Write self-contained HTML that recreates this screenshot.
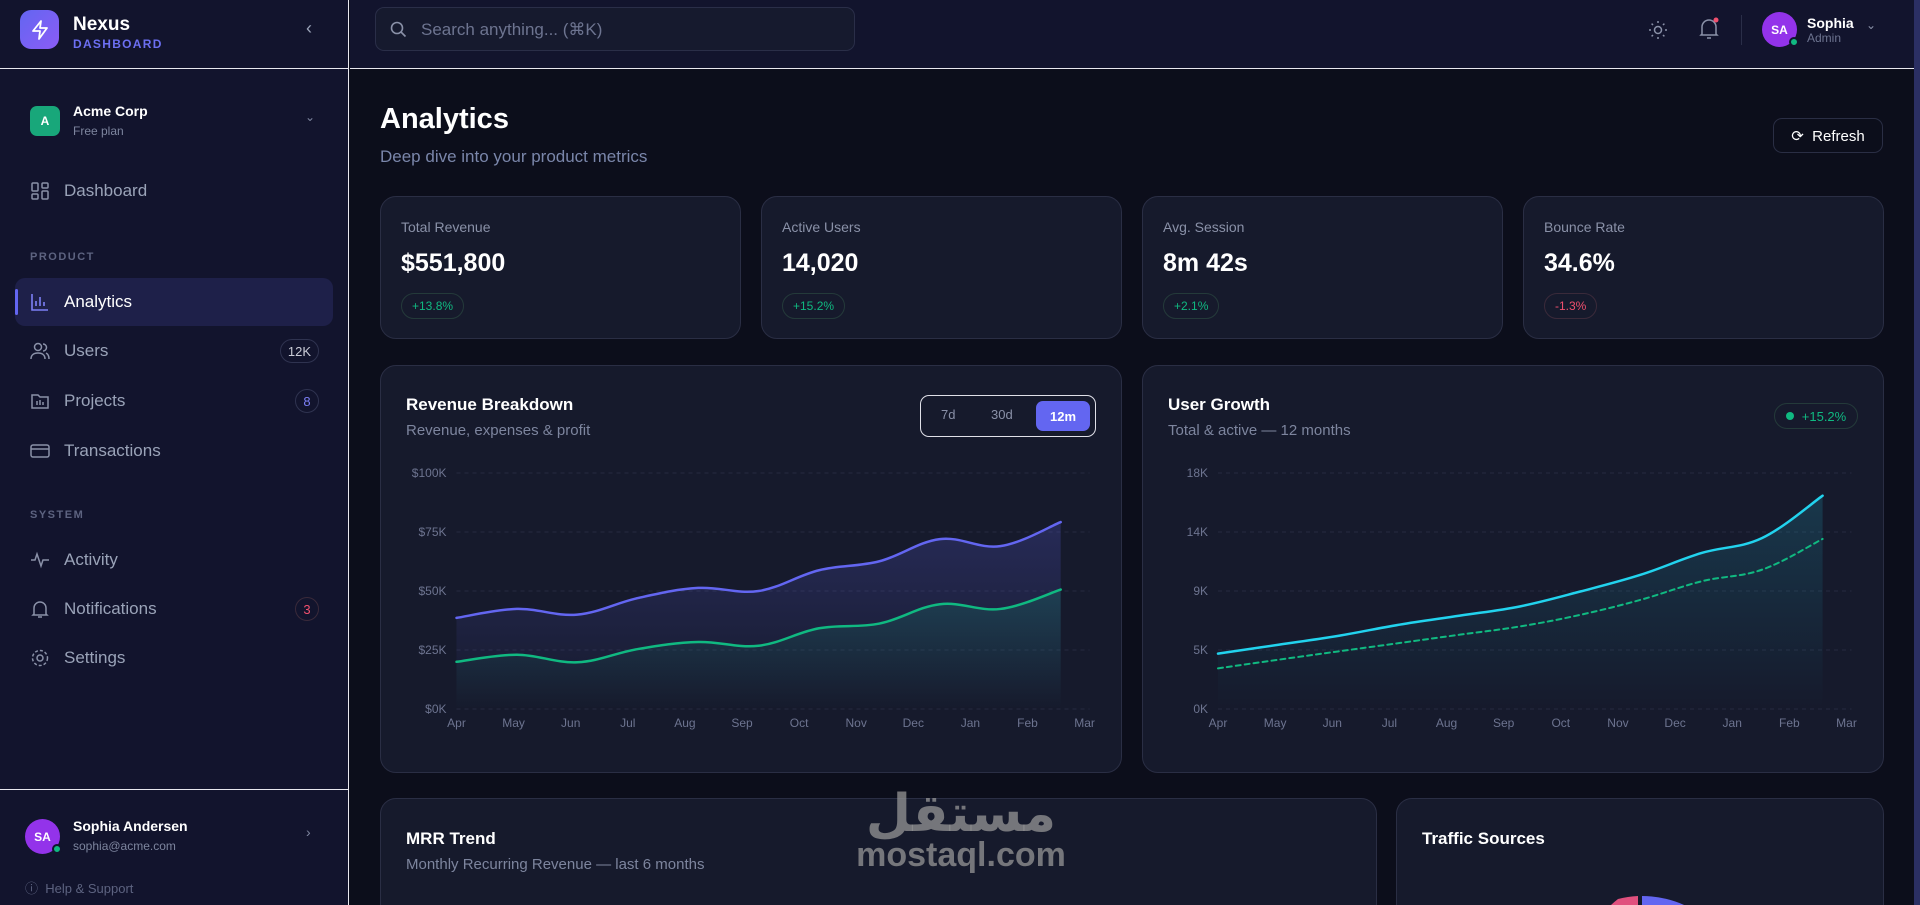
<!DOCTYPE html>
<html><head><meta charset="utf-8">
<style>
*{box-sizing:border-box;margin:0;padding:0}
html,body{width:1920px;height:905px;overflow:hidden}
body{background:#0c0e1b;font-family:"Liberation Sans",sans-serif;color:#e5e7eb;position:relative}
#root{position:absolute;left:0;top:0;width:1920px;height:905px;overflow:hidden}
.abs{position:absolute}
#sidebar{left:0;top:0;width:349px;height:905px;background:#12142d;border-right:1px solid #e8e8ee}
.nav{position:absolute;left:15px;width:318px;height:46px;display:flex;align-items:center;font-size:17px;color:#9aa3b8}
.nav svg{position:absolute;left:15px}
.nav span.t{position:absolute;left:49px}
.badge{position:absolute;right:14px;height:24px;min-width:24px;padding:0 7px;border:1px solid #2f3350;border-radius:12px;font-size:13px;display:flex;align-items:center;justify-content:center;color:#c9cbd6}
.sec{position:absolute;left:30px;font-size:11px;letter-spacing:1.5px;font-weight:bold;color:#5d6380}
.card{position:absolute;background:#161a2c;border:1px solid #2a2e44;border-radius:16px}
.kl{position:absolute;left:20px;top:22px;font-size:14px;color:#8a91a8}
.kv{position:absolute;left:20px;top:52px;font-size:25px;font-weight:bold;color:#fff}
.pill{position:absolute;left:20px;top:96px;height:26px;padding:0 10px;border:1px solid #243a3a;border-radius:13px;font-size:12px;display:flex;align-items:center}
.ct{position:absolute;font-size:17px;font-weight:bold;color:#fff}
.cs{position:absolute;font-size:15px;color:#7d859e}
</style></head><body>
<div id="root">
<div id="sidebar" class="abs">
  <div class="abs" style="left:20px;top:10px;width:39px;height:39px;border-radius:11px;background:linear-gradient(135deg,#6366f1,#8b5cf6);display:flex;align-items:center;justify-content:center">
    <svg width="18" height="20" viewBox="0 0 18 20"><path d="M10 1 L2 11 H9 L8 19 L16 8 H9 Z" fill="none" stroke="#fff" stroke-width="1.8" stroke-linejoin="round"/></svg></div>
  <div class="abs" style="left:73px;top:14px;font-size:19px;font-weight:bold;color:#fff">Nexus</div>
  <div class="abs" style="left:73px;top:37px;font-size:12px;font-weight:bold;letter-spacing:1.3px;color:#6c6ff2">DASHBOARD</div>
  <div class="abs" style="left:306px;top:18px;font-size:18px;color:#9aa3b8">‹</div>
  <div class="abs" style="left:0;top:68px;width:349px;height:1px;background:#e8e8ee"></div>
  <div class="abs" style="left:30px;top:106px;width:30px;height:30px;border-radius:7px;background:#18a77a;color:#fff;font-size:12px;font-weight:bold;display:flex;align-items:center;justify-content:center">A</div>
  <div class="abs" style="left:73px;top:103px;font-size:14px;font-weight:bold;color:#fff">Acme Corp</div>
  <div class="abs" style="left:73px;top:124px;font-size:12px;color:#7d859e">Free plan</div>
  <div class="abs" style="left:305px;top:110px;font-size:12px;color:#7d859e">⌄</div>
  <div class="nav" style="top:168px"><svg width="20" height="20" viewBox="0 0 20 20" fill="none" stroke="#8a91a8" stroke-width="1.5"><rect x="2" y="2" width="6" height="8" rx="1"/><rect x="12" y="2" width="6" height="5" rx="1"/><rect x="2" y="13" width="6" height="5" rx="1"/><rect x="12" y="10" width="6" height="8" rx="1"/></svg><span class="t">Dashboard</span></div>
  <div class="sec" style="top:251px">PRODUCT</div>
  <div class="nav" style="top:278px;height:48px;background:#1e2049;border-radius:10px;color:#fff"><div class="abs" style="left:0;top:11px;width:3px;height:26px;background:#6366f1;border-radius:2px"></div><svg width="20" height="20" viewBox="0 0 20 20" fill="none" stroke="#7c7ff5" stroke-width="1.6"><path d="M2 2V18H18M6 14V9M10 14V5M14 14V10"/></svg><span class="t">Analytics</span></div>
  <div class="nav" style="top:328px"><svg width="20" height="20" viewBox="0 0 20 20" fill="none" stroke="#8a91a8" stroke-width="1.5"><circle cx="8" cy="6" r="3.5"/><path d="M1 18c0-4 3-6 7-6s7 2 7 6M13 3a3.5 3.5 0 010 7M16 12c2 1 3 3 3 6"/></svg><span class="t">Users</span><span class="badge">12K</span></div>
  <div class="nav" style="top:378px"><svg width="20" height="20" viewBox="0 0 20 20" fill="none" stroke="#8a91a8" stroke-width="1.5"><path d="M2 4h6l2 2h8v11H2z M7 10v4M10 9v5M13 11v3"/></svg><span class="t">Projects</span><span class="badge" style="color:#7c7ff5">8</span></div>
  <div class="nav" style="top:428px"><svg width="20" height="20" viewBox="0 0 20 20" fill="none" stroke="#8a91a8" stroke-width="1.5"><rect x="1" y="4" width="18" height="12" rx="2"/><path d="M1 8H19"/></svg><span class="t">Transactions</span></div>
  <div class="sec" style="top:509px">SYSTEM</div>
  <div class="nav" style="top:537px"><svg width="20" height="20" viewBox="0 0 20 20" fill="none" stroke="#8a91a8" stroke-width="1.5"><path d="M1 10h4l2-6 4 12 2-6h6"/></svg><span class="t">Activity</span></div>
  <div class="nav" style="top:586px"><svg width="20" height="20" viewBox="0 0 20 20" fill="none" stroke="#8a91a8" stroke-width="1.5"><path d="M4 15V9a6 6 0 0112 0v6l1 1H3zM8 18h4"/></svg><span class="t">Notifications</span><span class="badge" style="color:#f0506e;border-color:#3a2a3a">3</span></div>
  <div class="nav" style="top:635px"><svg width="20" height="20" viewBox="0 0 20 20" fill="none" stroke="#8a91a8" stroke-width="1.5"><circle cx="10" cy="10" r="3"/><circle cx="10" cy="10" r="7.5" stroke-dasharray="3 2"/></svg><span class="t">Settings</span></div>
  <div class="abs" style="left:0;top:789px;width:349px;height:1px;background:#e8e8ee"></div>
  <div class="abs" style="left:25px;top:819px;width:35px;height:35px;border-radius:50%;background:#9333ea;color:#fff;font-size:12px;font-weight:bold;display:flex;align-items:center;justify-content:center">SA<div class="abs" style="right:-2px;bottom:0;width:10px;height:10px;border-radius:50%;background:#10b981;border:2px solid #12142d"></div></div>
  <div class="abs" style="left:73px;top:818px;font-size:14px;font-weight:bold;color:#fff">Sophia Andersen</div>
  <div class="abs" style="left:73px;top:839px;font-size:12px;color:#7d859e">sophia@acme.com</div>
  <div class="abs" style="left:306px;top:824px;font-size:14px;color:#7d859e">›</div>
  <div class="abs" style="left:25px;top:878px;font-size:13px;color:#5d6380">ⓘ&nbsp; Help &amp; Support</div>
</div>

<div class="abs" style="left:350px;top:0;width:1564px;height:69px;background:#12142d;border-bottom:1px solid #e8e8ee">
  <div class="abs" style="left:25px;top:7px;width:480px;height:44px;background:#161a2e;border:1px solid #2a2e48;border-radius:9px">
    <svg class="abs" style="left:14px;top:13px" width="17" height="17" viewBox="0 0 17 17" fill="none" stroke="#8a91a8" stroke-width="1.6"><circle cx="7" cy="7" r="5.5"/><path d="M11 11l4.5 4.5"/></svg>
    <span class="abs" style="left:45px;top:12px;font-size:17px;color:#6d7490">Search anything... (⌘K)</span></div>
  <svg class="abs" style="left:1298px;top:20px" width="20" height="20" viewBox="0 0 20 20" fill="none" stroke="#8a91a8" stroke-width="1.5"><circle cx="10" cy="10" r="3.5"/><path d="M10 1v2M10 17v2M1 10h2M17 10h2M3.6 3.6l1.4 1.4M15 15l1.4 1.4M3.6 16.4L5 15M15 5l1.4-1.4"/></svg>
  <svg class="abs" style="left:1348px;top:17px" width="22" height="24" viewBox="0 0 22 24" fill="none" stroke="#8a91a8" stroke-width="1.5"><path d="M4 17V10a7 7 0 0114 0v7l1 1H3zM9 21h4"/><circle cx="18" cy="3" r="2.5" fill="#f0506e" stroke="none"/></svg>
  <div class="abs" style="left:1391px;top:15px;width:1px;height:30px;background:#2a2e48"></div>
  <div class="abs" style="left:1412px;top:12px;width:35px;height:35px;border-radius:50%;background:#9333ea;color:#fff;font-size:12px;font-weight:bold;display:flex;align-items:center;justify-content:center">SA<div class="abs" style="right:-2px;bottom:0;width:10px;height:10px;border-radius:50%;background:#10b981;border:2px solid #12142d"></div></div>
  <div class="abs" style="left:1457px;top:15px;font-size:14px;font-weight:bold;color:#fff">Sophia</div>
  <div class="abs" style="left:1457px;top:31px;font-size:12px;color:#6d7490">Admin</div>
  <div class="abs" style="left:1516px;top:18px;font-size:12px;color:#8a91a8">⌄</div>
</div>
<div class="abs" style="left:1914px;top:0;width:6px;height:905px;background:#2b2f63"></div>

<div class="abs" style="left:380px;top:103px;font-size:29px;font-weight:bold;color:#fff">Analytics</div>
<div class="abs" style="left:380px;top:147px;font-size:17px;color:#7a86aa">Deep dive into your product metrics</div>
<div class="abs" style="left:1773px;top:118px;width:110px;height:35px;border:1px solid #2a2e44;border-radius:9px;display:flex;align-items:center;justify-content:center;font-size:15px;color:#fff">⟳&nbsp; Refresh</div>

<div class="card" style="left:380px;top:196px;width:361px;height:143px"><div class="kl">Total Revenue</div><div class="kv">$551,800</div><div class="pill" style="color:#10b981">+13.8%</div></div>
<div class="card" style="left:761px;top:196px;width:361px;height:143px"><div class="kl">Active Users</div><div class="kv">14,020</div><div class="pill" style="color:#10b981">+15.2%</div></div>
<div class="card" style="left:1142px;top:196px;width:361px;height:143px"><div class="kl">Avg. Session</div><div class="kv">8m 42s</div><div class="pill" style="color:#10b981">+2.1%</div></div>
<div class="card" style="left:1523px;top:196px;width:361px;height:143px"><div class="kl">Bounce Rate</div><div class="kv">34.6%</div><div class="pill" style="color:#f0506e;border-color:#3a2a3a">-1.3%</div></div>

<div class="card" style="left:380px;top:365px;width:742px;height:408px"></div>
<div class="ct" style="left:406px;top:395px">Revenue Breakdown</div>
<div class="cs" style="left:406px;top:422px">Revenue, expenses &amp; profit</div>
<div class="abs" style="left:920px;top:395px;width:176px;height:42px;border:1.5px solid #e0e0e8;border-radius:9px">
  <div class="abs" style="left:20px;top:11px;font-size:13px;color:#8a91a8">7d</div>
  <div class="abs" style="left:70px;top:11px;font-size:13px;color:#8a91a8">30d</div>
  <div class="abs" style="left:115px;top:5px;width:54px;height:30px;background:#6366f1;border-radius:7px;color:#fff;font-size:13px;font-weight:bold;display:flex;align-items:center;justify-content:center">12m</div>
</div>

<div class="card" style="left:1142px;top:365px;width:742px;height:408px"></div>
<div class="ct" style="left:1168px;top:395px">User Growth</div>
<div class="cs" style="left:1168px;top:422px">Total &amp; active — 12 months</div>
<div class="abs" style="left:1774px;top:403px;width:84px;height:26px;border:1px solid #243a3a;border-radius:13px;font-size:13px;color:#10b981;display:flex;align-items:center;justify-content:center"><span style="display:inline-block;width:8px;height:8px;border-radius:50%;background:#10b981;margin-right:8px"></span>+15.2%</div>

<svg class="abs" id="charts" style="left:0;top:0" width="1920" height="905"></svg>

<div class="card" style="left:380px;top:798px;width:997px;height:130px"></div>
<div class="ct" style="left:406px;top:829px">MRR Trend</div>
<div class="cs" style="left:406px;top:856px">Monthly Recurring Revenue — last 6 months</div>
<div class="card" style="left:1396px;top:798px;width:488px;height:130px;overflow:hidden">
  <svg class="abs" style="left:0;top:0" width="488" height="140"><g>
    <path d="M245 97 A104 104 0 0 1 329 140 L296 140 A62 62 0 0 0 245 138Z" fill="#6366f1"/>
    <path d="M221 100 A104 104 0 0 1 241 97 L241 138 A62 62 0 0 0 225 140 L190 140 A104 104 0 0 1 221 100Z" fill="#e0507e"/></g></svg></div>
<div class="ct" style="left:1422px;top:829px">Traffic Sources</div>

<div class="abs" style="left:845px;top:788px;width:232px;text-align:center;color:rgba(150,150,150,0.75);font-family:'DejaVu Sans',sans-serif;font-weight:bold;line-height:1">
  <div style="font-size:52px">مستقل</div><div style="font-size:34px;font-family:'Liberation Sans',sans-serif;margin-top:-2px">mostaql.com</div></div>
</div>

<script>
// Revenue breakdown data
const revMonths = ["Apr","May","Jun","Jul","Aug","Sep","Oct","Nov","Dec","Jan","Feb","Mar"];
const revTicks = [0,25,50,75,100];
const revTickLabels = ["$0K","$25K","$50K","$75K","$100K"];
const revenueSeries = [38.6,42.4,40,47,51.3,50,58.8,62.6,72,69,79.2];
const profitSeries = [20,23,19.8,25.4,28.4,26.8,34.2,36.2,44.4,42.4,50.6];
// User growth data
const ugMonths = ["Apr","May","Jun","Jul","Aug","Sep","Oct","Nov","Dec","Jan","Feb","Mar"];
const ugTicks = [0,4500,9000,13500,18000];
const ugTickLabels = ["0K","5K","9K","14K","18K"];
const totalUsers = [4220,4900,5590,6430,7120,7830,8970,10250,11900,13040,16270];
const activeUsers = [3100,3760,4400,5030,5670,6300,7190,8340,9740,10630,12970];

const NS="http://www.w3.org/2000/svg";
const svg=document.getElementById('charts');
function mk(tag,attrs,parent){const e=document.createElementNS(NS,tag);for(const k in attrs)e.setAttribute(k,attrs[k]);(parent||svg).appendChild(e);return e;}
function smooth(pts){let d=`M${pts[0][0]},${pts[0][1]}`;for(let i=0;i<pts.length-1;i++){const p0=pts[i-1]||pts[i],p1=pts[i],p2=pts[i+1],p3=pts[i+2]||p2;const t=0.18;d+=` C${p1[0]+(p2[0]-p0[0])*t},${p1[1]+(p2[1]-p0[1])*t} ${p2[0]-(p3[0]-p1[0])*t},${p2[1]-(p3[1]-p1[1])*t} ${p2[0]},${p2[1]}`;}return d;}
const defs=mk('defs',{});
function grad(id,color,op){const g=mk('linearGradient',{id:id,x1:0,y1:0,x2:0,y2:1},defs);mk('stop',{offset:'0','stop-color':color,'stop-opacity':op},g);mk('stop',{offset:'1','stop-color':color,'stop-opacity':0.0},g);}
grad('gPurple','#6366f1',0.22);grad('gGreen','#10b981',0.18);grad('gCyan','#22d3ee',0.16);

function chart(o){
  const yTop=473,yBot=709;
  const ys=v=>yBot-(v-o.ticks[0])/(o.ticks[o.ticks.length-1]-o.ticks[0])*(yBot-yTop);
  const xs=i=>o.x0+i*(o.xDataEnd-o.x0)/(o.nData-1);
  const xl=j=>o.x0+j*(o.xLabelEnd-o.x0)/(o.labels.length-1);
  const g=mk('g',{});
  
  
  o.ticks.forEach((t,i)=>{
    const ln=mk('line',{x1:o.x0,x2:o.xLabelEnd+5,y1:ys(t),y2:ys(t),stroke:'#262a40','stroke-dasharray':'4 4'},g);
    
    
    const tx=mk('text',{x:o.x0-10,y:ys(t)+4,'text-anchor':'end','font-size':12,fill:'#6d7490','font-family':'Liberation Sans'},g);
    tx.textContent=o.tickLabels[i];
    
    
  });
  o.labels.forEach((m,j)=>{
    const tx=mk('text',{x:xl(j),y:727,'text-anchor':'middle','font-size':12,fill:'#6d7490','font-family':'Liberation Sans'},g);
    tx.textContent=m;
    
    
  });
  o.series.forEach(s=>{
    const pts=s.data.map((v,i)=>[xs(i),ys(v)]);
    const d=smooth(pts);
    if(s.fill){const a=mk('path',{d:d+` L${pts[pts.length-1][0]},${yBot} L${pts[0][0]},${yBot} Z`,fill:s.fill,stroke:'none'},g);
      
      }
    const l=mk('path',{d:d,fill:'none',stroke:s.color,'stroke-width':s.w,'stroke-dasharray':s.dash||'none','stroke-linecap':'round'},g);
    
    
  });
}
chart({name:'revenue-chart',x0:456.5,xDataEnd:1060.7,xLabelEnd:1084.6,nData:revenueSeries.length,ticks:revTicks,tickLabels:revTickLabels,labels:revMonths,
  series:[{name:'revenue',data:revenueSeries,color:'#6366f1',fill:'url(#gPurple)',w:2.5},{name:'profit',data:profitSeries,color:'#10b981',fill:'url(#gGreen)',w:2.5}]});
chart({name:'user-growth-chart',x0:1218,xDataEnd:1822.6,xLabelEnd:1846.5,nData:totalUsers.length,ticks:ugTicks,tickLabels:ugTickLabels,labels:ugMonths,
  series:[{name:'total-users',data:totalUsers,color:'#22d3ee',fill:'url(#gCyan)',w:2.5},{name:'active-users',data:activeUsers,color:'#10b981',w:2,dash:'5 4'}]});
</script>
</body></html>
